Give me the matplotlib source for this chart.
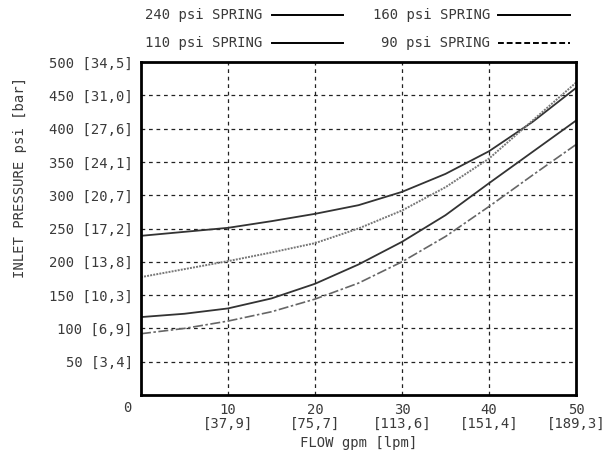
"""
Inlet pressure vs flow for four spring settings
"""
import matplotlib
matplotlib.use('Agg')
import matplotlib.pyplot as plt
from matplotlib.lines import Line2D

plt.rcParams['font.family'] = ['DejaVu Sans Mono']
plt.rcParams['font.size'] = 10

# data (flow in gpm, pressure in psi)
flow = [0, 5, 10, 15, 20, 25, 30, 35, 40, 45, 50]
p240 = [239, 245, 251, 261, 272, 285, 305, 332, 366, 410, 461]
p110 = [177, 189, 201, 214, 228, 250, 277, 312, 355, 412, 469]
p160 = [117, 122, 130, 145, 167, 196, 230, 270, 318, 365, 412]
p90 = [92, 100, 111, 125, 144, 168, 200, 238, 283, 330, 376]

x_ticks = [10, 20, 30, 40, 50]
x_labels = ['10\n[37,9]', '20\n[75,7]', '30\n[113,6]', '40\n[151,4]', '50\n[189,3]']
y_ticks = [50, 100, 150, 200, 250, 300, 350, 400, 450, 500]
y_labels = ['50 [3,4]', '100 [6,9]', '150 [10,3]', '200 [13,8]', '250 [17,2]',
            '300 [20,7]', '350 [24,1]', '400 [27,6]', '450 [31,0]', '500 [34,5]']

TXT = '#3a3a3a'
W, H = 613, 463
fig = plt.figure(figsize=(W / 100, H / 100), dpi=100)
ax = fig.add_axes([141 / W, 1 - 395 / H, (576 - 141) / W, (395 - 62) / H])

# curves
ax.plot(flow, p240, color='#333333', lw=1.3, ls='-')
ax.plot(flow, p110, color='#777777', lw=1.4, ls=(0, (1, 0.6)))
ax.plot(flow, p160, color='#333333', lw=1.3, ls='-')
ax.plot(flow, p90, color='#666666', lw=1.2, ls=(0, (6, 1.5, 1.5, 1.5)))

ax.set_xlim(0, 50)
ax.set_ylim(0, 500)

# grid
for yv in y_ticks[:-1]:
    ax.axhline(yv, color='#222222', lw=0.9, ls=(0, (3, 3)), zorder=0)
for xv in x_ticks[:-1]:
    ax.axvline(xv, color='#222222', lw=0.9, ls=(0, (3, 3)), zorder=0)

ax.set_xticks(x_ticks)
ax.set_xticklabels(x_labels, linespacing=1.0)
ax.set_yticks(y_ticks)
ax.set_yticklabels(y_labels)
ax.tick_params(length=0, pad=6, colors=TXT)
ax.tick_params(axis='x', pad=6)

for s in ax.spines.values():
    s.set_linewidth(2)
    s.set_color('black')

# origin label
fig.text(127 / W, 1 - 408 / H, '0', ha='center', va='center', color=TXT)

ax.set_xlabel('FLOW gpm [lpm]', labelpad=3, color=TXT)
fig.text(20 / W, 1 - 178 / H, 'INLET PRESSURE psi [bar]', rotation=90,
         ha='center', va='center', color=TXT)

# legend
legend_rows = [
    ('240 psi SPRING', 262, 272, 343, 15, '-'),
    ('160 psi SPRING', 490, 498, 570, 15, '-'),
    ('110 psi SPRING', 262, 272, 343, 43, '-'),
    ('90 psi SPRING', 490, 498, 570, 43, (0, (3, 1.5))),
]
for label, tx, x0, x1, y, style in legend_rows:
    fig.text(tx / W, 1 - y / H, label, ha='right', va='center', color=TXT)
    fig.add_artist(Line2D([x0 / W, x1 / W], [1 - y / H, 1 - y / H],
                          color='black', lw=1.4, ls=style))

plt.savefig('out.png', dpi=100)
plt.close()
